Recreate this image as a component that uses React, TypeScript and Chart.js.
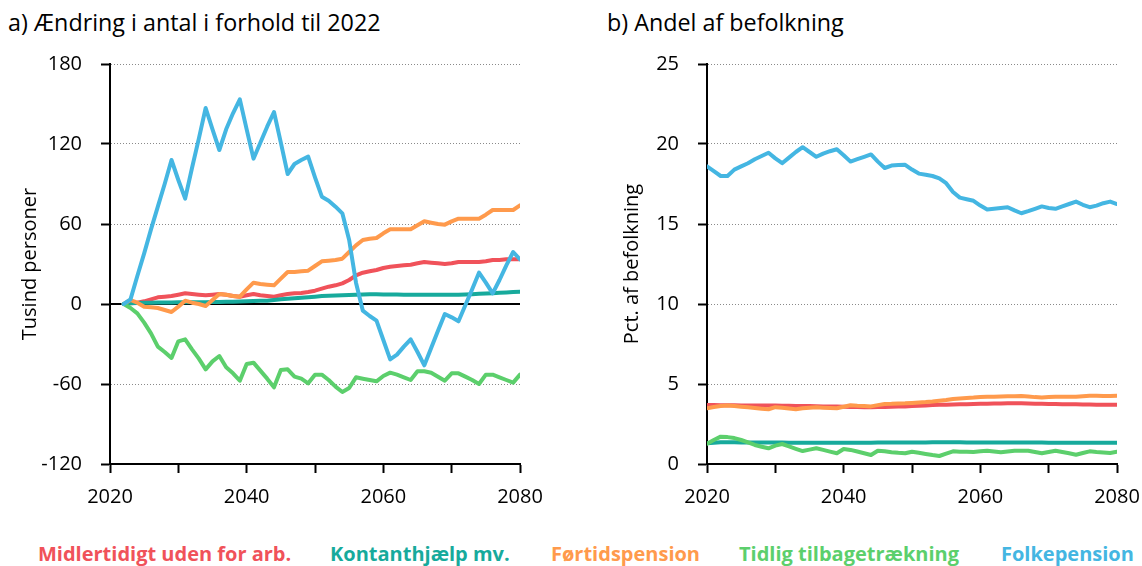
import React, { useEffect, useRef } from "react";
import { Chart, registerables } from "chart.js";

Chart.register(...registerables);

const FONT = '"Open Sans", "Noto Sans", sans-serif';

// ---- Panel a) change in number relative to 2022 (thousand persons) ----
const yearsA = [
  2022, 2023, 2024, 2025, 2026, 2027, 2028, 2029, 2030, 2031,
  2032, 2033, 2034, 2035, 2036, 2037, 2038, 2039, 2040, 2041,
  2042, 2043, 2044, 2045, 2046, 2047, 2048, 2049, 2050, 2051,
  2052, 2053, 2054, 2055, 2056, 2057, 2058, 2059, 2060, 2061,
  2062, 2063, 2064, 2065, 2066, 2067, 2068, 2069, 2070, 2071,
  2072, 2073, 2074, 2075, 2076, 2077, 2078, 2079, 2080,
];

const midlertidigtA = [
  0, 0.5, 1, 2, 3.5, 5, 5.5, 6, 7, 8,
  7.5, 7, 6.5, 7, 7.5, 7, 6, 5.5, 6.5, 7.5,
  6.5, 6, 5.5, 6.5, 7.5, 8, 8.3, 9, 10, 11.5,
  13, 14, 15.5, 18, 21.5, 23.5, 24.5, 25.5, 27, 28,
  28.5, 29, 29.5, 30.5, 31.5, 31, 30.5, 30, 30.5, 31.5,
  31.5, 31.5, 31.5, 32, 33, 33, 33.5, 33.5, 33.5,
];

const kontanthjaelpA = [
  0, 0.5, 0.8, 1, 1, 1.1, 1.2, 1.2, 1.3, 1.3,
  1.3, 1.4, 1.4, 1.5, 1.5, 1.6, 1.7, 1.8, 2, 2.2,
  2.4, 2.5, 3, 3.5, 4, 4.3, 4.7, 5.1, 5.5, 6,
  6.1, 6.3, 6.5, 6.7, 6.9, 7.1, 7.3, 7.3, 7.2, 7.2,
  7.1, 7, 7, 7, 7, 7, 7, 7, 7, 7,
  7.2, 7.4, 7.6, 7.8, 8.1, 8.4, 8.7, 9, 9.2,
];

const foertidspensionA = [
  0, 3, 1, -2, -2.5, -3, -4.5, -6, -2, 2.5,
  1, 0, -1.5, 3, 7.5, 7, 6, 5.5, 11, 16,
  15, 14.5, 14, 19, 24, 24, 24.5, 25, 28.5, 32,
  32.5, 33, 34, 39, 44, 48, 49, 49.5, 53, 56,
  56, 56, 56, 59, 62, 61, 60, 59.5, 62, 64,
  64, 64, 64, 67, 70.5, 70.5, 70.5, 70.5, 74,
];

const tidligA = [
  0, -3, -7, -14, -22, -32, -36, -40.5, -28, -26.5,
  -34, -41, -49, -43, -39, -47.5, -52, -57.5, -45, -44,
  -50, -56, -62.5, -49.5, -49, -54.5, -56, -59.5, -53, -53,
  -57, -62, -66, -63, -55, -56, -57, -58, -54, -51.5,
  -53, -55, -57, -50.5, -50.5, -51.5, -54.5, -57.5, -52, -52,
  -54.5, -57, -60, -53, -53, -55, -57, -59, -53,
];

const folkepensionA = [
  0, 3.5, 21, 38, 56, 73, 90, 108, 93, 79,
  102, 124, 147, 131, 115.5, 131, 143, 153.5, 131, 109,
  121, 133, 144, 121, 97.5, 105, 108, 110.5, 95, 80.5,
  77.5, 73, 68, 48, 16, -5, -9, -12.5, -27, -41.5,
  -38, -32, -26.5, -36, -46, -33, -20, -7.5, -10, -13,
  -1, 11, 23.5, 16, 8, 18, 29, 39, 33.5,
];

// ---- Panel b) share of population (pct.) ----
const yearsB = [
  2020, 2021, 2022, 2023, 2024, 2025, 2026, 2027, 2028, 2029,
  2030, 2031, 2032, 2033, 2034, 2035, 2036, 2037, 2038, 2039,
  2040, 2041, 2042, 2043, 2044, 2045, 2046, 2047, 2048, 2049,
  2050, 2051, 2052, 2053, 2054, 2055, 2056, 2057, 2058, 2059,
  2060, 2061, 2062, 2063, 2064, 2065, 2066, 2067, 2068, 2069,
  2070, 2071, 2072, 2073, 2074, 2075, 2076, 2077, 2078, 2079,
  2080,
];

const midlertidigtB = [
  3.68, 3.68, 3.67, 3.67, 3.67, 3.66, 3.66, 3.66, 3.65, 3.65,
  3.65, 3.64, 3.64, 3.63, 3.62, 3.62, 3.61, 3.6, 3.6, 3.59,
  3.58, 3.57, 3.56, 3.55, 3.55, 3.56, 3.57, 3.58, 3.59, 3.6,
  3.62, 3.64, 3.66, 3.68, 3.7, 3.71, 3.72, 3.73, 3.74, 3.75,
  3.76, 3.77, 3.78, 3.78, 3.79, 3.79, 3.79, 3.78, 3.77, 3.76,
  3.75, 3.75, 3.74, 3.74, 3.73, 3.72, 3.72, 3.71, 3.71, 3.7,
  3.7,
];

const kontanthjaelpB = [
  1.29, 1.33, 1.36, 1.36, 1.36, 1.35, 1.35, 1.34, 1.34, 1.34,
  1.34, 1.34, 1.33, 1.33, 1.33, 1.33, 1.33, 1.33, 1.33, 1.33,
  1.33, 1.33, 1.33, 1.33, 1.33, 1.34, 1.34, 1.34, 1.34, 1.35,
  1.35, 1.35, 1.35, 1.36, 1.36, 1.36, 1.36, 1.36, 1.35, 1.35,
  1.35, 1.35, 1.35, 1.35, 1.35, 1.34, 1.34, 1.34, 1.34, 1.34,
  1.33, 1.33, 1.33, 1.33, 1.33, 1.33, 1.33, 1.33, 1.33, 1.33,
  1.33,
];

const foertidspensionB = [
  3.48, 3.56, 3.62, 3.65, 3.62, 3.58, 3.54, 3.5, 3.46, 3.42,
  3.55, 3.52, 3.47, 3.42, 3.48, 3.52, 3.54, 3.52, 3.5, 3.48,
  3.58, 3.67, 3.64, 3.62, 3.6, 3.68, 3.75, 3.76, 3.78, 3.79,
  3.82, 3.85, 3.87, 3.9, 3.95, 4.0, 4.06, 4.1, 4.13, 4.15,
  4.18, 4.2, 4.21, 4.22, 4.23, 4.24, 4.25, 4.22, 4.18, 4.15,
  4.18, 4.2, 4.2, 4.2, 4.2, 4.23, 4.26, 4.26, 4.25, 4.25,
  4.27,
];

const tidligB = [
  1.27, 1.5, 1.71, 1.68, 1.62, 1.5, 1.35, 1.19, 1.08, 0.98,
  1.15, 1.25, 1.1, 0.95, 0.81, 0.9, 0.98, 0.88, 0.77, 0.67,
  0.94, 0.88, 0.78, 0.67, 0.56, 0.83, 0.8, 0.74, 0.7, 0.67,
  0.77, 0.7, 0.63, 0.56, 0.5, 0.65, 0.79, 0.77, 0.76, 0.75,
  0.79, 0.83, 0.78, 0.73, 0.78, 0.83, 0.83, 0.83, 0.75, 0.67,
  0.75, 0.83, 0.75, 0.67, 0.58, 0.69, 0.79, 0.75, 0.72, 0.69,
  0.77,
];

const folkepensionB = [
  18.6, 18.3, 18.0, 18.0, 18.4, 18.6, 18.8, 19.05, 19.25, 19.45,
  19.1, 18.8, 19.15, 19.5, 19.8, 19.5, 19.2, 19.4, 19.55, 19.67,
  19.3, 18.9, 19.05, 19.2, 19.35, 18.9, 18.5, 18.65, 18.68, 18.7,
  18.4, 18.15, 18.08, 18.0, 17.85, 17.55, 17.0, 16.65, 16.55, 16.45,
  16.15, 15.9, 15.95, 16.0, 16.05, 15.85, 15.67, 15.8, 15.95, 16.1,
  16.0, 15.95, 16.1, 16.25, 16.4, 16.2, 16.05, 16.15, 16.3, 16.4,
  16.25,
];

const seriesNames = [
  "Midlertidigt uden for arb.",
  "Kontanthjælp mv.",
  "Førtidspension",
  "Tidlig tilbagetrækning",
  "Folkepension",
];
const seriesColors = ["#f0525a", "#17aa9c", "#ff9a4c", "#5ccf6c", "#44b6e2"];
const drawOrder = [4, 3, 2, 1, 0];

const xTicksA = { min: 2020, max: 2080, step: 10 };
const yTicksA = { min: -120, max: 180, step: 60 };
const yTicksB = { min: 0, max: 25, step: 5 };

const zeroLinePlugin = {
  id: "zeroLine",
  beforeDatasetsDraw(chart: any, _args: any, opts: any) {
    if (!opts || !opts.enabled) return;
    const y = chart.scales.y;
    const x = chart.scales.x;
    const py = y.getPixelForValue(0);
    const ctx = chart.ctx;
    ctx.save();
    ctx.strokeStyle = "#000";
    ctx.lineWidth = 2;
    ctx.beginPath();
    ctx.moveTo(x.left, py);
    ctx.lineTo(x.right, py);
    ctx.stroke();
    ctx.restore();
  },
};

function buildConfig(
  years: number[],
  series: number[][],
  yr: { min: number; max: number; step: number },
  yTitle: string,
  yAxisWidth: number,
  titlePad: number,
  rightPad: number,
  zero: boolean
): any {
  return {
    type: "line",
    data: {
      datasets: series.map((vals, i) => ({
        label: seriesNames[i],
        data: years.map((yv, j) => ({ x: yv, y: vals[j] })),
        borderColor: seriesColors[i],
        backgroundColor: seriesColors[i],
        borderWidth: 4,
        pointRadius: 0,
        tension: 0,
        borderJoinStyle: "round",
        borderCapStyle: "round",
        order: drawOrder[i],
      })),
    },
    plugins: [zeroLinePlugin],
    options: {
      responsive: false,
      animation: false,
      layout: { padding: 0 },
      plugins: {
        legend: { display: false },
        tooltip: { enabled: false },
        zeroLine: { enabled: zero },
      },
      scales: {
        x: {
          type: "linear",
          min: xTicksA.min,
          max: xTicksA.max,
          afterFit: (s: any) => {
            s.height = 45;
            s.paddingLeft = 0;
            s.paddingRight = rightPad;
            s.paddingTop = 0;
            s.paddingBottom = 0;
          },
          ticks: {
            stepSize: xTicksA.step,
            autoSkip: false,
            maxRotation: 0,
            padding: 12,
            color: "#000",
            font: { family: FONT, size: 20 },
            callback: (v: any) => (Number(v) % 20 === 0 ? String(v) : ""),
          },
          grid: {
            drawOnChartArea: false,
            drawTicks: true,
            tickLength: 9,
            tickColor: "#000",
            tickWidth: 2,
          },
          border: { color: "#000", width: 2 },
        },
        y: {
          min: yr.min,
          max: yr.max,
          afterFit: (s: any) => {
            s.width = yAxisWidth;
            s.paddingTop = 14;
            s.paddingBottom = 0;
            s.paddingLeft = 0;
            s.paddingRight = 0;
          },
          ticks: {
            stepSize: yr.step,
            padding: 19,
            color: "#000",
            font: { family: FONT, size: 20 },
          },
          grid: {
            color: "#8a8a8a",
            lineWidth: 1,
            tickLength: 9,
            tickColor: "#000",
            tickWidth: 2,
            tickBorderDash: [],
          },
          border: { color: "#000", width: 2, dash: [1, 2] },
          title: {
            display: true,
            text: yTitle,
            color: "#000",
            font: { family: FONT, size: 20 },
            padding: { top: titlePad, bottom: 0 },
          },
        },
      },
    },
  };
}

function LineChart(props: {
  config: any;
  left: number;
  top: number;
  width: number;
  height: number;
}) {
  const ref = useRef<HTMLCanvasElement | null>(null);
  useEffect(() => {
    if (!ref.current) return;
    const chart = new Chart(ref.current, props.config);
    return () => chart.destroy();
  }, []);
  return (
    <canvas
      ref={ref}
      width={props.width}
      height={props.height}
      style={{
        position: "absolute",
        left: props.left,
        top: props.top,
        width: props.width,
        height: props.height,
      }}
    />
  );
}

export default function App() {
  const cfgA = buildConfig(
    yearsA,
    [midlertidigtA, kontanthjaelpA, foertidspensionA, tidligA, folkepensionA],
    yTicksA,
    "Tusind personer",
    110,
    18,
    40,
    true
  );
  const cfgB = buildConfig(
    yearsB,
    [midlertidigtB, kontanthjaelpB, foertidspensionB, tidligB, folkepensionB],
    yTicksB,
    "Pct. af befolkning",
    107,
    20,
    25,
    false
  );
  const legendLefts = [38, 330, 551, 739, 1001];
  return (
    <div
      style={{
        position: "fixed",
        left: 0,
        top: 0,
        width: 1142,
        height: 566,
        background: "#fff",
        fontFamily: FONT,
        color: "#000",
        overflow: "hidden",
      }}
    >
      <div style={{ position: "absolute", left: 8, top: 11, fontSize: 23.3, lineHeight: "1", whiteSpace: "nowrap" }}>
        a) Ændring i antal i forhold til 2022
      </div>
      <div style={{ position: "absolute", left: 607, top: 11, fontSize: 23.3, lineHeight: "1", whiteSpace: "nowrap" }}>
        b) Andel af befolkning
      </div>
      <LineChart config={cfgA} left={0} top={50} width={560} height={459} />
      <LineChart config={cfgB} left={600} top={50} width={542} height={459} />
      {seriesNames.map((n, i) => (
        <div
          key={n}
          style={{
            position: "absolute",
            left: legendLefts[i],
            top: 544,
            fontSize: 20,
            fontWeight: 700,
            lineHeight: "1",
            color: seriesColors[i],
            whiteSpace: "nowrap",
          }}
        >
          {n}
        </div>
      ))}
    </div>
  );
}
